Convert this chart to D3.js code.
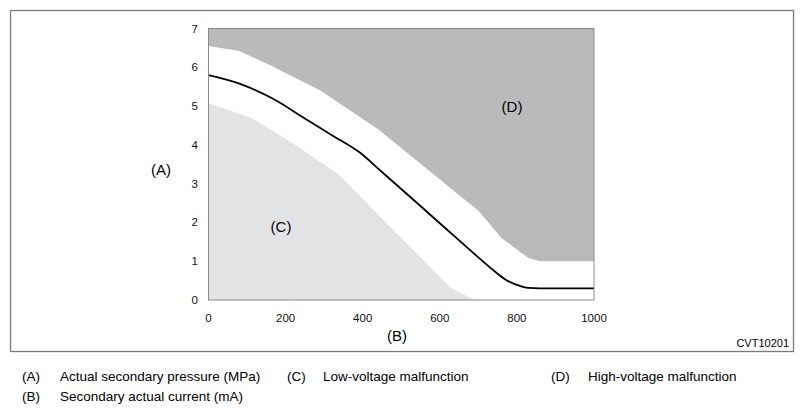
<!DOCTYPE html>
<html>
<head>
<meta charset="utf-8">
<script src="https://cdn.jsdelivr.net/npm/d3@7"></script>
<style>
  body { margin: 0; background: #fff; }
  svg { display: block; font-family: "Liberation Sans", Arial, sans-serif; }
</style>
</head>
<body>
<div id="chart"></div>
<script>
// boundary of high-voltage malfunction zone (D), lower edge
var highEdge = [[0, 6.55], [80, 6.42], [160, 6.05], [290, 5.4], [440, 4.4], [700, 2.3], [760, 1.6], [830, 1.08], [860, 1.0], [1000, 1.0]];
// boundary of low-voltage malfunction zone (C), upper edge
var lowEdge = [[0, 5.07], [110, 4.7], [210, 4.1], [340, 3.22], [440, 2.2], [480, 1.8], [630, 0.3], [690, 0]];
// nominal curve
var nominal = [[0, 5.8], [80, 5.58], [165, 5.2], [250, 4.68], [320, 4.25], [390, 3.82], [450, 3.3], [600, 1.98], [700, 1.1],
  [740, 0.76], [770, 0.53], [800, 0.39], [830, 0.31], [860, 0.3], [1000, 0.3]];

var xTicks = [0, 200, 400, 600, 800, 1000];
var yTicks = [0, 1, 2, 3, 4, 5, 6, 7];

var legendRows = [
  [["(A)", "Actual secondary pressure (MPa)"], ["(C)", "Low-voltage malfunction"], ["(D)", "High-voltage malfunction"]],
  [["(B)", "Secondary actual current (mA)"]]
];

var W = 804, H = 414;
var svg = d3.select("#chart").append("svg").attr("width", W).attr("height", H);

// outer frame
svg.append("rect")
  .attr("x", 10.5).attr("y", 10.5).attr("width", 783).attr("height", 341)
  .attr("fill", "none").attr("stroke", "#7a7a7a").attr("stroke-width", 1.3);

var x = d3.scaleLinear().domain([0, 1000]).range([208.5, 594]);
var y = d3.scaleLinear().domain([0, 7]).range([300, 28.5]);

// D zone: from its edge up to the top
var areaTop = d3.area().x(function (d) { return x(d[0]); })
  .y0(y(7)).y1(function (d) { return y(d[1]); });
svg.append("path").datum(highEdge).attr("d", areaTop).attr("fill", "#b9babc");

// C zone: from zero up to its edge
var areaBottom = d3.area().x(function (d) { return x(d[0]); })
  .y0(y(0)).y1(function (d) { return y(d[1]); });
svg.append("path").datum(lowEdge).attr("d", areaBottom).attr("fill", "#e2e3e5");

// nominal line
var line = d3.line().x(function (d) { return x(d[0]); }).y(function (d) { return y(d[1]); })
  .curve(d3.curveMonotoneX);
svg.append("path").datum(nominal).attr("d", line)
  .attr("fill", "none").attr("stroke", "#000").attr("stroke-width", 1.8);

// plot border
svg.append("rect")
  .attr("x", x(0)).attr("y", y(7)).attr("width", x(1000) - x(0)).attr("height", y(0) - y(7))
  .attr("fill", "none").attr("stroke", "#8a8a8a").attr("stroke-width", 1);

// ticks
svg.append("g").selectAll("text").data(xTicks).enter().append("text")
  .attr("x", function (d) { return x(d); }).attr("y", 322)
  .attr("text-anchor", "middle").attr("font-size", 11.5).attr("fill", "#111")
  .text(function (d) { return d; });

svg.append("g").selectAll("text").data(yTicks).enter().append("text")
  .attr("x", 198).attr("y", function (d) { return y(d) + 4; })
  .attr("text-anchor", "end").attr("font-size", 11.5).attr("fill", "#111")
  .text(function (d) { return d; });

// labels
svg.append("text").attr("x", 161).attr("y", 175).attr("text-anchor", "middle")
  .attr("font-size", 15).text("(A)");
svg.append("text").attr("x", 397).attr("y", 341).attr("text-anchor", "middle")
  .attr("font-size", 15).text("(B)");
svg.append("text").attr("x", 281).attr("y", 232).attr("text-anchor", "middle")
  .attr("font-size", 15).text("(C)");
svg.append("text").attr("x", 512).attr("y", 112).attr("text-anchor", "middle")
  .attr("font-size", 15).text("(D)");
svg.append("text").attr("x", 789).attr("y", 347).attr("text-anchor", "end")
  .attr("font-size", 11).text("CVT10201");

// legend
var colX = [[22, 60], [287, 323], [551, 588]];
legendRows.forEach(function (row, r) {
  row.forEach(function (item, c) {
    var ty = 381 + r * 20;
    svg.append("text").attr("x", colX[c][0]).attr("y", ty).attr("font-size", 13.5).text(item[0]);
    svg.append("text").attr("x", colX[c][1]).attr("y", ty).attr("font-size", 13.5).text(item[1]);
  });
});
</script>
</body>
</html>
